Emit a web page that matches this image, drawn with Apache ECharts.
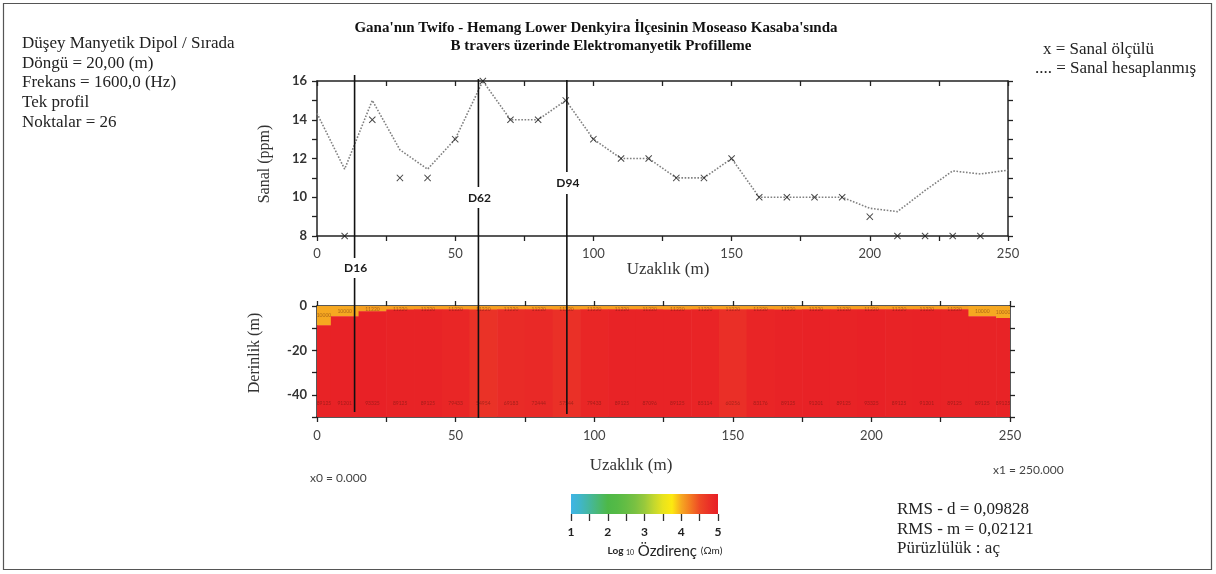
<!DOCTYPE html>
<html>
<head>
<meta charset="utf-8">
<title>Elektromanyetik Profilleme</title>
<script src="https://cdn.jsdelivr.net/npm/echarts@6/dist/echarts.min.js"></script>
<style>
  html, body { margin: 0; padding: 0; background: #ffffff; }
  #chart { width: 1216px; height: 574px; }
</style>
</head>
<body>
<div id="chart"></div>
<script>
// Station positions along traverse B (m)
const stations = [0, 10, 20, 30, 40, 50, 60, 70, 80, 90, 100, 110, 120, 130, 140, 150, 160, 170, 180, 190, 200, 210, 220, 230, 240, 250];
// Measured quadrature (ppm)
const measured = [null, 8, 14, 11, 11, 13, 16, 14, 14, 15, 13, 12, 12, 11, 11, 12, 10, 10, 10, 10, 9, 8, 8, 8, 8, null];
// Calculated quadrature (ppm)
const calculated = [14.33, 11.45, 15.0, 12.45, 11.45, 13.0, 16.0, 14.0, 14.0, 15.0, 13.0, 12.0, 12.0, 11.0, 11.0, 12.0, 10.0, 10.0, 10.0, 10.0, 9.43, 9.26, 10.35, 11.36, 11.2, 11.4];

// Two-layer inversion model, one column per station
const layer1Thickness = [8.7, 4.6, 2.4, 1.6, 1.5, 1.5, 1.6, 1.5, 1.5, 1.6, 1.5, 1.5, 1.5, 1.6, 1.5, 1.5, 1.5, 1.6, 1.5, 1.5, 1.5, 1.5, 1.5, 1.5, 4.6, 5.4];
const layer1LogRho = [4.0, 4.0, 4.05, 4.05, 4.05, 4.05, 4.05, 4.05, 4.05, 4.05, 4.05, 4.05, 4.05, 4.05, 4.05, 4.05, 4.05, 4.05, 4.05, 4.05, 4.05, 4.05, 4.05, 4.05, 4.0, 4.0];
const layer2LogRho = [4.95, 4.96, 4.97, 4.95, 4.95, 4.9, 4.74, 4.84, 4.86, 4.76, 4.9, 4.95, 4.94, 4.95, 4.93, 4.78, 4.92, 4.95, 4.96, 4.95, 4.97, 4.95, 4.96, 4.95, 4.95, 4.95];
const modelBottom = -50;

// Dipole lines
const dipoleNames = ['D16', 'D62', 'D94'];
const dipolePositions = [13.6, 58.4, 90.4];

// Colour scale, log10 resistivity 1..5 in steps of 0.25
const colorScaleMin = 1;
const colorScaleMax = 5;
const colorScaleTicks = [1, 2, 3, 4, 5];
const colorScale = ['#3fb4e5', '#40b6c8', '#45b79e', '#4ab872', '#4db848', '#55ba46', '#65bd44', '#7ac142',
  '#98c93c', '#c2d72f', '#e8e31e', '#fde910', '#f6a821', '#f37a22', '#ee4a25', '#ea3127', '#e81f26'];

// ---- layout / styles ----
const SERIF = "'Liberation Serif', 'Times New Roman', serif";
const SANS = "Lato, 'Open Sans', 'Liberation Sans', sans-serif";
const AXIS_COLOR = '#222';
// pixel extents of each dipole line: [segment top, segment bottom] pairs and label centre y
const dipoleLayout = [
  { segs: [[75, 258], [278, 412]], labelY: 268 },
  { segs: [[79, 187], [208, 418]], labelY: 198 },
  { segs: [[80, 172], [194, 414]], labelY: 183 }
];

const chart = echarts.init(document.getElementById('chart'), null, { renderer: 'canvas' });

const lineData = stations.map((s, i) => [s, calculated[i]]);
const markData = stations.map((s, i) => [s, measured[i]]).filter(d => d[1] !== null);

const blocks = [];
stations.forEach((s, i) => {
  const x0 = Math.max(0, s - 5), x1 = Math.min(250, s + 5);
  blocks.push([x0, x1, 0, -layer1Thickness[i], layer1LogRho[i], 1]);
  blocks.push([x0, x1, -layer1Thickness[i], modelBottom, layer2LogRho[i], 2]);
});

const xMark = 'path://M0,1 L1,0 L5,4 L9,0 L10,1 L6,5 L10,9 L9,10 L5,6 L1,10 L0,9 L4,5 Z';

function axisCommon(extra) {
  return Object.assign({
    axisLine: { show: true, onZero: false, lineStyle: { color: AXIS_COLOR, width: 1.5 } },
    axisTick: { show: true, length: 5, lineStyle: { color: AXIS_COLOR, width: 1.3 } },
    splitLine: { show: false }
  }, extra);
}

const gradStops = colorScale.map((c, i) => ({ offset: i / (colorScale.length - 1), color: c }));

const option = {
  backgroundColor: '#ffffff',
  animation: false,
  grid: [
    { left: 317, right: 208, top: 81, height: 155 },
    { left: 317, right: 206, top: 306, height: 111 },
    { left: 571, width: 147, top: 494, height: 20 }
  ],
  xAxis: [
    axisCommon({ gridIndex: 0, type: 'value', min: 0, max: 250, interval: 25, position: 'bottom',
      axisLabel: { margin: 11, color: '#444', fontFamily: SANS, fontSize: 13, formatter: v => (v % 50 === 0 ? v : '') } }),
    axisCommon({ gridIndex: 0, type: 'value', min: 0, max: 250, interval: 25, position: 'top',
      axisTick: { show: true, inside: true, length: 5, lineStyle: { color: AXIS_COLOR, width: 1.3 } },
      axisLabel: { show: false } }),
    axisCommon({ gridIndex: 1, type: 'value', min: 0, max: 250, interval: 25, position: 'bottom',
      axisLabel: { margin: 12, color: '#444', fontFamily: SANS, fontSize: 13, formatter: v => (v % 50 === 0 ? v : '') } }),
    axisCommon({ gridIndex: 1, type: 'value', min: 0, max: 250, interval: 25, position: 'top',
      axisLabel: { show: false } }),
    { gridIndex: 2, type: 'value', min: colorScaleMin, max: colorScaleMax, interval: 0.5, position: 'bottom',
      axisLine: { show: false },
      axisTick: { show: true, length: 7, lineStyle: { color: '#333', width: 1.3 } },
      axisLabel: { margin: 12, color: '#222', fontFamily: SANS, fontSize: 12, fontWeight: 'bold',
        formatter: v => (colorScaleTicks.indexOf(v) >= 0 ? v : '') },
      splitLine: { show: false } }
  ],
  yAxis: [
    axisCommon({ gridIndex: 0, type: 'value', min: 8, max: 16, interval: 1, position: 'left',
      axisLabel: { margin: 10, color: '#333', fontFamily: SANS, fontSize: 13, fontWeight: 'bold', formatter: v => (v % 2 === 0 ? v : '') } }),
    axisCommon({ gridIndex: 0, type: 'value', min: 8, max: 16, interval: 1, position: 'right',
      axisLabel: { show: false } }),
    axisCommon({ gridIndex: 1, type: 'value', min: -50, max: 0, interval: 10, position: 'left',
      axisLabel: { margin: 10, color: '#333', fontFamily: SANS, fontSize: 13, fontWeight: 'bold', formatter: v => (v % 20 === 0 ? v : '') } }),
    axisCommon({ gridIndex: 1, type: 'value', min: -50, max: 0, interval: 10, position: 'right',
      axisLabel: { show: false } }),
    { gridIndex: 2, type: 'value', min: 0, max: 1, show: false }
  ],
  visualMap: {
    type: 'continuous', show: false, seriesIndex: 2, dimension: 4,
    min: colorScaleMin, max: colorScaleMax, inRange: { color: colorScale }
  },
  series: [
    {
      name: 'Sanal hesaplanmış', type: 'line', xAxisIndex: 0, yAxisIndex: 0,
      data: lineData, showSymbol: false, symbol: 'none',
      lineStyle: { color: '#808080', width: 1.6, type: 'dotted' }, z: 3
    },
    {
      name: 'Sanal ölçülü', type: 'scatter', xAxisIndex: 0, yAxisIndex: 0,
      data: markData, symbol: xMark, symbolSize: 7, clip: false,
      itemStyle: { color: '#1a1a1a' }, z: 4
    },
    {
      name: 'Model', type: 'custom', xAxisIndex: 2, yAxisIndex: 2, data: blocks, clip: true,
      renderItem: function (params, api) {
        const p0 = api.coord([api.value(0), api.value(2)]);
        const p1 = api.coord([api.value(1), api.value(3)]);
        const rho = Math.round(Math.pow(10, api.value(4)));
        const layer = api.value(5);
        const cx = (p0[0] + p1[0]) / 2;
        const ty = layer === 1 ? Math.max((p0[1] + p1[1]) / 2, p0[1] + 3) : api.coord([0, -44])[1];
        return {
          type: 'group',
          children: [
            { type: 'rect', shape: { x: p0[0], y: p0[1], width: p1[0] - p0[0] + 0.6, height: p1[1] - p0[1] + 0.4 },
              style: { fill: api.visual('color') } },
            { type: 'text', z2: 5, style: { x: cx, y: ty, text: String(rho), align: 'center', verticalAlign: 'middle',
              fontSize: 5, fontFamily: SANS, fill: 'rgba(80,20,10,0.45)' } }
          ]
        };
      }
    },
    {
      name: 'Dipoller', type: 'custom', xAxisIndex: 0, yAxisIndex: 0, clip: false, z: 10,
      data: dipolePositions.map((p, i) => [p, 16, i]),
      renderItem: function (params, api) {
        const i = api.value(2);
        const x = api.coord([api.value(0), 16])[0];
        const lay = dipoleLayout[i];
        const children = lay.segs.map(s => ({
          type: 'line', shape: { x1: x, y1: s[0], x2: x, y2: s[1] },
          style: { stroke: '#111', lineWidth: 1.6 }
        }));
        children.push({ type: 'text', style: { x: x + 1, y: lay.labelY, text: dipoleNames[i], align: 'center', verticalAlign: 'middle',
          fontFamily: SANS, fontSize: 12, fontWeight: 'bold', fill: '#1a1a1a' } });
        return { type: 'group', children: children };
      }
    },
    {
      name: 'Renk ölçeği', type: 'custom', xAxisIndex: 4, yAxisIndex: 4, clip: false,
      data: [[colorScaleMin, colorScaleMax]],
      renderItem: function (params, api) {
        const a = api.coord([api.value(0), 1]);
        const b = api.coord([api.value(1), 0]);
        return { type: 'rect', shape: { x: a[0], y: a[1], width: b[0] - a[0], height: b[1] - a[1] },
          style: { fill: new echarts.graphic.LinearGradient(0, 0, 1, 0, gradStops) } };
      }
    }
  ],
  graphic: [
    { type: 'rect', shape: { x: 3.5, y: 3.5, width: 1208, height: 566 }, style: { fill: 'none', stroke: '#555', lineWidth: 1.2 }, silent: true },
    { type: 'text', x: 596, y: 28, style: { text: "Gana'nın Twifo - Hemang Lower Denkyira İlçesinin Moseaso Kasaba'sında", align: 'center', verticalAlign: 'middle',
      font: 'bold 15px ' + SERIF, fill: '#111' } },
    { type: 'text', x: 601, y: 46, style: { text: 'B travers üzerinde Elektromanyetik Profilleme', align: 'center', verticalAlign: 'middle',
      font: 'bold 15px ' + SERIF, fill: '#111' } },
    { type: 'text', x: 22, y: 34, style: { text: 'Düşey Manyetik Dipol / Sırada\nDöngü = 20,00 (m)\nFrekans = 1600,0 (Hz)\nTek profil\nNoktalar = 26',
      font: '17px ' + SERIF, lineHeight: 19.6, fill: '#222' } },
    { type: 'text', x: 1043, y: 50, style: { text: 'x = Sanal ölçülü', verticalAlign: 'middle', font: '17px ' + SERIF, fill: '#222' } },
    { type: 'text', x: 1035, y: 69, style: { text: '.... = Sanal hesaplanmış', verticalAlign: 'middle', font: '17px ' + SERIF, fill: '#222' } },
    { type: 'text', x: 265, y: 164, rotation: Math.PI / 2, style: { text: 'Sanal (ppm)', align: 'center', verticalAlign: 'middle', font: '16px ' + SERIF, fill: '#333' } },
    { type: 'text', x: 668, y: 270, style: { text: 'Uzaklık (m)', align: 'center', verticalAlign: 'middle', font: '17px ' + SERIF, fill: '#333' } },
    { type: 'text', x: 255, y: 353, rotation: Math.PI / 2, style: { text: 'Derinlik (m)', align: 'center', verticalAlign: 'middle', font: '16px ' + SERIF, fill: '#333' } },
    { type: 'text', x: 631, y: 466, style: { text: 'Uzaklık (m)', align: 'center', verticalAlign: 'middle', font: '17px ' + SERIF, fill: '#333' } },
    { type: 'text', x: 310, y: 478, style: { text: 'x0 = 0.000', verticalAlign: 'middle', font: '12px ' + SANS, fill: '#444' } },
    { type: 'text', x: 993, y: 470, style: { text: 'x1 = 250.000', verticalAlign: 'middle', font: '12px ' + SANS, fill: '#444' } },
    { type: 'text', x: 897, y: 500, style: { text: 'RMS - d = 0,09828\nRMS - m = 0,02121\nPürüzlülük : aç', verticalAlign: 'top',
      font: '17px ' + SERIF, lineHeight: 19.5, fill: '#222' } },
    { type: 'text', x: 665, y: 551, style: {
      text: '{a|Log }{s|10}{b| Özdirenç }{c|(Ωm)}', align: 'center', verticalAlign: 'middle',
      rich: {
        a: { fontFamily: SANS, fontSize: 10, fill: '#222', fontWeight: 'bold' },
        s: { fontFamily: SANS, fontSize: 7, fill: '#222', padding: [4, 0, 0, 0] },
        b: { fontFamily: SANS, fontSize: 15, fill: '#222' },
        c: { fontFamily: SANS, fontSize: 10, fill: '#222' }
      } } }
  ]
};

chart.setOption(option);
</script>
</body>
</html>
